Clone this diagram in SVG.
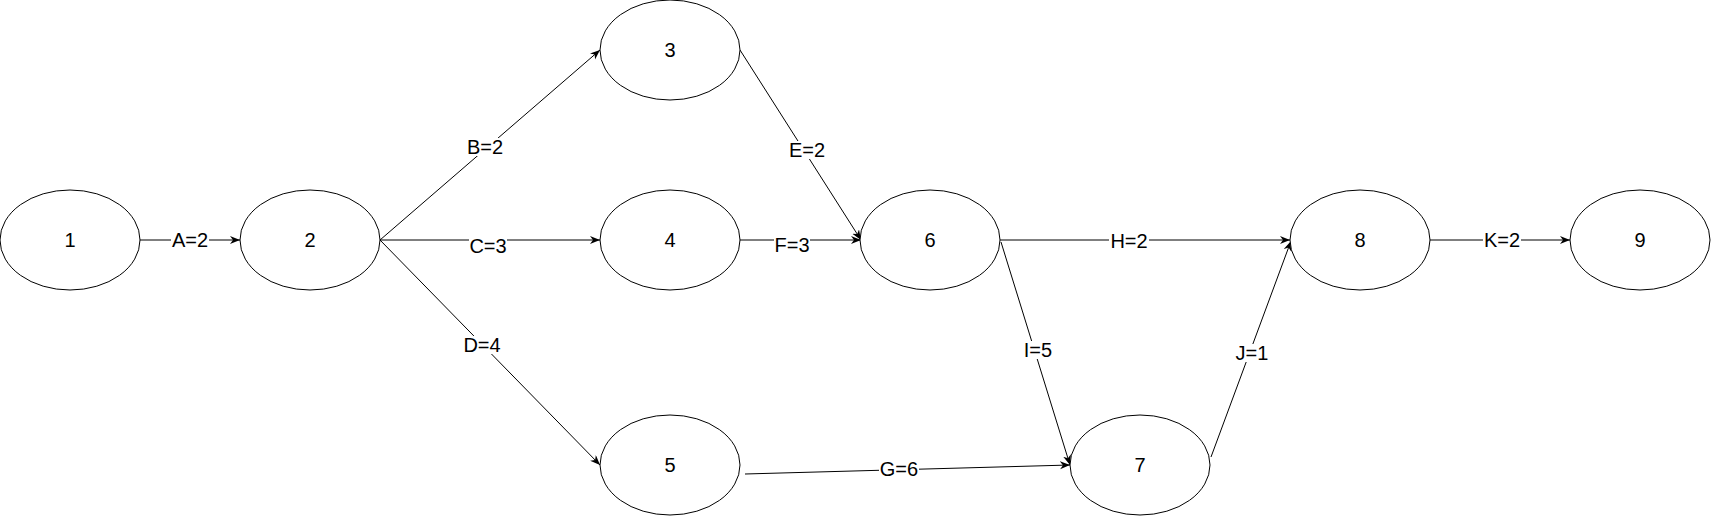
<svg xmlns="http://www.w3.org/2000/svg" width="1711" height="516" viewBox="0 0 1711 516">
<style>
.node ellipse{fill:#fff;stroke:#000;stroke-width:1}
text{font-family:"Liberation Sans",Arial,sans-serif;font-size:20px;fill:#000;text-anchor:middle}
.edge line{stroke:#000;stroke-width:1;fill:none}
.lbl rect{fill:#fff}
</style>
<defs>
<marker id="arr" markerUnits="userSpaceOnUse" markerWidth="11" markerHeight="9" refX="10" refY="4" orient="auto">
<path d="M0,0 L10,4 L0,8 L3,4 z" fill="#000"/>
</marker>
</defs>
<g id="connectors">
<g class="edge" id="eA"><line x1="140" y1="240" x2="240" y2="240" marker-end="url(#arr)"/></g>
<g class="edge" id="eB"><line x1="380" y1="240" x2="600" y2="50" marker-end="url(#arr)"/></g>
<g class="edge" id="eC"><line x1="380" y1="240" x2="600" y2="240" marker-end="url(#arr)"/></g>
<g class="edge" id="eD"><line x1="380" y1="240" x2="600" y2="465" marker-end="url(#arr)"/></g>
<g class="edge" id="eE"><line x1="740" y1="50" x2="861" y2="240" marker-end="url(#arr)"/></g>
<g class="edge" id="eF"><line x1="740" y1="240" x2="861" y2="240" marker-end="url(#arr)"/></g>
<g class="edge" id="eG"><line x1="745" y1="474" x2="1070" y2="465" marker-end="url(#arr)"/></g>
<g class="edge" id="eH"><line x1="1000" y1="240" x2="1290" y2="240" marker-end="url(#arr)"/></g>
<g class="edge" id="eI"><line x1="1001" y1="242" x2="1070" y2="465" marker-end="url(#arr)"/></g>
<g class="edge" id="eJ"><line x1="1211" y1="457" x2="1291" y2="241" marker-end="url(#arr)"/></g>
<g class="edge" id="eK"><line x1="1430" y1="240" x2="1570" y2="240" marker-end="url(#arr)"/></g>
<g class="lbl">
<rect x="171" y="231" width="38" height="18"/><text x="190" y="247">A=2</text>
<rect x="466" y="138" width="38" height="18"/><text x="485" y="154">B=2</text>
<rect x="469" y="237" width="38" height="18"/><text x="488" y="253">C=3</text>
<rect x="462" y="336" width="40" height="18"/><text x="482" y="352">D=4</text>
<rect x="788" y="141" width="38" height="18"/><text x="807" y="157">E=2</text>
<rect x="774" y="236" width="36" height="18"/><text x="792" y="252">F=3</text>
<rect x="879" y="460" width="40" height="18"/><text x="899" y="476">G=6</text>
<rect x="1109" y="232" width="40" height="18"/><text x="1129" y="248">H=2</text>
<rect x="1023" y="341" width="30" height="18"/><text x="1038" y="357">I=5</text>
<rect x="1235" y="344" width="34" height="18"/><text x="1252" y="360">J=1</text>
<rect x="1483" y="231" width="38" height="18"/><text x="1502" y="247">K=2</text>
</g>
</g>
<g class="node" id="n1"><ellipse cx="70" cy="240" rx="70" ry="50"/><text x="70" y="247">1</text></g>
<g class="node" id="n2"><ellipse cx="310" cy="240" rx="70" ry="50"/><text x="310" y="247">2</text></g>
<g class="node" id="n3"><ellipse cx="670" cy="50" rx="70" ry="50"/><text x="670" y="57">3</text></g>
<g class="node" id="n4"><ellipse cx="670" cy="240" rx="70" ry="50"/><text x="670" y="247">4</text></g>
<g class="node" id="n5"><ellipse cx="670" cy="465" rx="70" ry="50"/><text x="670" y="472">5</text></g>
<g class="node" id="n6"><ellipse cx="930" cy="240" rx="70" ry="50"/><text x="930" y="247">6</text></g>
<g class="node" id="n7"><ellipse cx="1140" cy="465" rx="70" ry="50"/><text x="1140" y="472">7</text></g>
<g class="node" id="n8"><ellipse cx="1360" cy="240" rx="70" ry="50"/><text x="1360" y="247">8</text></g>
<g class="node" id="n9"><ellipse cx="1640" cy="240" rx="70" ry="50"/><text x="1640" y="247">9</text></g>
</svg>
